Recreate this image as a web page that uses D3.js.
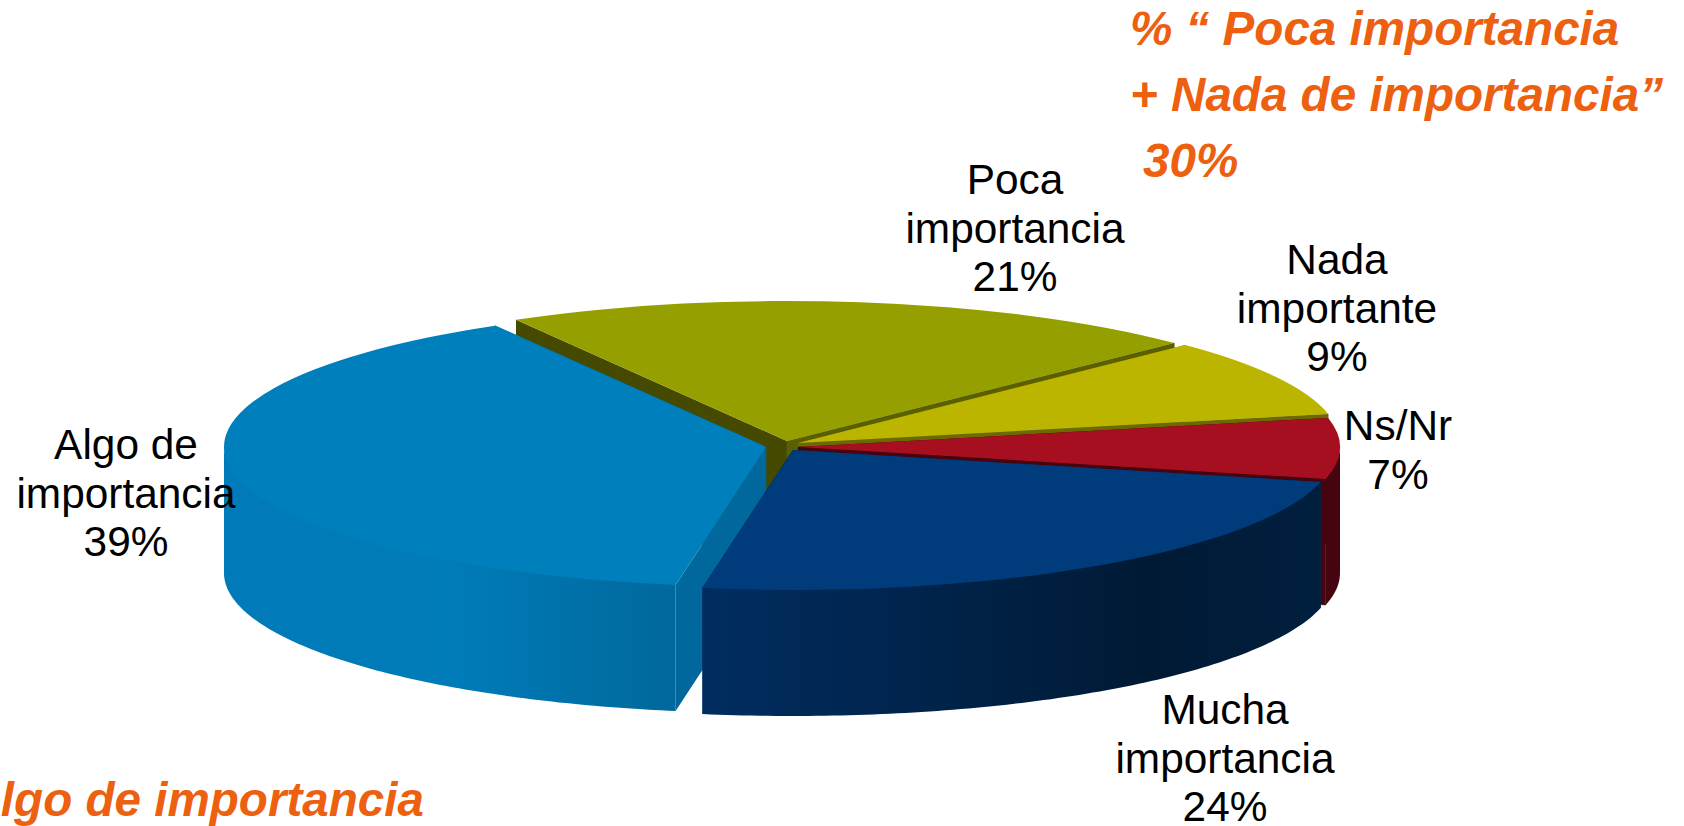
<!DOCTYPE html>
<html><head><meta charset="utf-8">
<script src="https://cdn.jsdelivr.net/npm/d3@7/dist/d3.min.js"></script>
<style>html,body{margin:0;padding:0;background:#fff;overflow:hidden}svg{display:block}
text{font-family:"Liberation Sans",Arial,sans-serif}</style></head><body>
<svg id="c" width="1684" height="826"></svg>
<script>
const categories = ["Poca importancia","Nada importante","Ns/Nr","Mucha importancia","Algo de importancia"];
const values = [21,9,7,24,39];
const labelLines = [["Poca","importancia"],["Nada","importante"],["Ns/Nr"],["Mucha","importancia"],["Algo de","importancia"]];
const noteRight = ["% “ Poca importancia","+ Nada de importancia”"," 30%"];
const noteLeft = "Algo de importancia";

const W=1684,H=826,rx=542,ry=140,depth=126;
const layout = [
 {cx:787,cy:441,top:"#95a000",cut:"#454a00",cutEnd:"#5a6000",wall:["#6a7200","#6a7200"],lx:1015,ly:194},
 {cx:798,cy:443,top:"#bcb500",cut:"#6b6a00",cutEnd:"#6b6a00",wall:["#6b6a00","#6b6a00"],lx:1337,ly:274},
 {cx:798,cy:447,top:"#a50f1f",cut:"#45040f",cutEnd:"#45040f",wall:["#45040f","#45040f"],lx:1398,ly:440},
 {cx:793,cy:450,top:"#003b7b",cut:"#002c5e",cutEnd:"#002c5e",wall:["#002d60","#001a35","#001f3e"],stops:[0,0.72,1],lx:1225,ly:724},
 {cx:766,cy:447,top:"#007fbd",cut:"#00689c",cutEnd:"#00689c",wall:["#007ab8","#007cb9","#00689c"],stops:[0,0.5,1],lx:126,ly:459}
];
const svg=d3.select("#c");
const defs=svg.append("defs");
const pie=d3.pie().sort(null).startAngle(-30*Math.PI/180).endAngle(330*Math.PI/180);
const arcs=pie(values);
const arcGen=d3.arc().innerRadius(0).outerRadius(rx);
const line=d3.line();

function pt(a,L,dy){return [L.cx+rx*Math.sin(a),L.cy-ry*Math.cos(a)+(dy||0)];}
function rim(a0,a1,L,dy){return d3.range(0,101).map(i=>pt(a0+(a1-a0)*i/100,L,dy));}

const order=[0,1,2,4,3];
order.forEach(i=>{
  const d=arcs[i],L=layout[i],g=svg.append("g").attr("class","slice");
  const id="w"+i;
  const stops=L.stops||L.wall.map((_,k)=>k/(L.wall.length-1));
  const apex=[L.cx,L.cy],apexB=[L.cx,L.cy+depth];
  const s=pt(d.startAngle,L),sB=pt(d.startAngle,L,depth),e=pt(d.endAngle,L),eB=pt(d.endAngle,L,depth);
  g.append("path").attr("d",line([apex,s,sB,apexB])+"Z").attr("fill",L.cut);
  // the end cut face sits under the outer wall; a hairline of its colour closes the seam
  g.append("path").attr("d",line([apex,e,eB,apexB])+"Z").attr("fill",L.cutEnd).attr("stroke",L.cutEnd).attr("stroke-width",0.6);
  // outer wall: only the part of the rim facing the viewer (90° to 270°)
  const a0=Math.max(d.startAngle,Math.PI/2),a1=Math.min(d.endAngle,3*Math.PI/2);
  if(a1>a0){
    const xs=rim(a0,a1,L).map(p=>p[0]);
    const grad=defs.append("linearGradient").attr("id",id).attr("gradientUnits","userSpaceOnUse")
      .attr("x1",d3.min(xs)).attr("x2",d3.max(xs)).attr("y1",0).attr("y2",0);
    L.wall.forEach((c,k)=>grad.append("stop").attr("offset",stops[k]).attr("stop-color",c));
    g.append("path").attr("d",line(rim(a0,a1,L,-1.5).concat(rim(a1,a0,L,depth)))+"Z").attr("fill","url(#"+id+")");
  }
  g.append("path").attr("transform",`translate(${L.cx},${L.cy}) scale(1,${ry/rx})`).attr("d",arcGen(d)).attr("fill",L.top);
});

const lh=48.5;
labelLines.forEach((ls,i)=>{
  const L=layout[i];
  const t=svg.append("text").attr("text-anchor","middle").attr("font-size",42.4).attr("fill","#000");
  ls.concat([values[i]+"%"]).forEach((s,k)=>t.append("tspan").attr("x",L.lx).attr("y",L.ly+k*lh).text(s));
});
const orange="#ec6010";
[[1130,45],[1130,111],[1143,177]].forEach((p,i)=>{
  svg.append("text").attr("x",p[0]).attr("y",p[1]).attr("font-size",47.6).attr("font-weight","bold").attr("font-style","italic").attr("fill",orange).text(noteRight[i].trim());
});
svg.append("text").attr("x",424).attr("y",816).attr("text-anchor","end").attr("font-size",47.6).attr("font-weight","bold").attr("font-style","italic").attr("fill",orange).text(noteLeft);
</script></body></html>
